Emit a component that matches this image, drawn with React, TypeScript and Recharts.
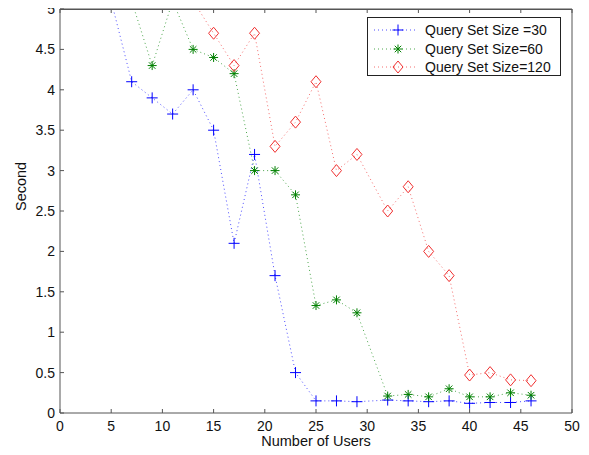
import React from "react";
import {
  LineChart,
  Line,
  XAxis,
  YAxis,
  Legend,
  ReferenceLine,
} from "recharts";

// number of users on the x axis
const userCounts = [5, 7, 9, 11, 13, 15, 17, 19, 21, 23, 25, 27, 29, 32, 34, 36, 38, 40, 42, 44, 46];

// seconds, per query set size (values above 5 leave the plot area)
const size30 = [5.1, 4.1, 3.9, 3.7, 4.0, 3.5, 2.1, 3.2, 1.7, 0.5, 0.15, 0.15, 0.14, 0.16, 0.15, 0.14, 0.15, 0.12, 0.13, 0.13, 0.15];
const size60 = [null, 5.1, 4.3, 5.1, 4.5, 4.4, 4.2, 3.0, 3.0, 2.7, 1.33, 1.4, 1.24, 0.21, 0.23, 0.2, 0.3, 0.2, 0.2, 0.25, 0.22];
const size120 = [null, null, null, null, 5.1, 4.7, 4.3, 4.7, 3.3, 3.6, 4.1, 3.0, 3.2, 2.5, 2.8, 2.0, 1.7, 0.47, 0.5, 0.41, 0.4];

const xTicks = [0, 5, 10, 15, 20, 25, 30, 35, 40, 45, 50];
const yTicks = [0, 0.5, 1, 1.5, 2, 2.5, 3, 3.5, 4, 4.5, 5];

const seriesNames = ["Query Set Size =30", "Query Set Size=60", "Query Set Size=120"];

const data = userCounts.map((u, i) => ({
  users: u,
  s30: size30[i],
  s60: size60[i],
  s120: size120[i],
}));

const BLUE = "#0000ff";
const GREEN = "#008000";
const RED = "#f03030";
const AXIS = "#555";
const DASH = "1 3";
const FONT = "'Liberation Sans', Arial, Helvetica, sans-serif";

// chart sits at (8, 8) inside the body margin
const PLOT_TOP = 1;
const PLOT_LEFT = 52;
const PLOT_WIDTH = 512;

const PlusMark = ({ cx, cy }: { cx: number; cy: number }) => (
  <g>
    <line x1={cx - 5.5} y1={cy} x2={cx + 5.5} y2={cy} stroke={BLUE} strokeWidth={1} />
    <line x1={cx} y1={cy - 5.5} x2={cx} y2={cy + 5.5} stroke={BLUE} strokeWidth={1} />
  </g>
);

const StarMark = ({ cx, cy }: { cx: number; cy: number }) => {
  const r = 4.5;
  const d = r * 0.72;
  return (
    <g stroke={GREEN} strokeWidth={1}>
      <line x1={cx - r} y1={cy} x2={cx + r} y2={cy} />
      <line x1={cx} y1={cy - r} x2={cx} y2={cy + r} />
      <line x1={cx - d} y1={cy - d} x2={cx + d} y2={cy + d} />
      <line x1={cx - d} y1={cy + d} x2={cx + d} y2={cy - d} />
    </g>
  );
};

const DiamondMark = ({ cx, cy }: { cx: number; cy: number }) => (
  <path
    d={`M${cx} ${cy - 6} L${cx + 5} ${cy} L${cx} ${cy + 6} L${cx - 5} ${cy} Z`}
    fill="none"
    stroke={RED}
    strokeWidth={1}
  />
);

const marks = [PlusMark, StarMark, DiamondMark];
const colors = [BLUE, GREEN, RED];

function dotFor(idx: number) {
  const Mark = marks[idx];
  return (props: any) => {
    const { cx, cy, index, value } = props;
    if (value == null || cx == null || cy == null) return <g key={index} />;
    return <Mark key={index} cx={cx} cy={cy} />;
  };
}

// bottom tick label, plus the matching inward tick on the top edge of the box
const XTick = (props: any) => {
  const { x, y, payload } = props;
  return (
    <g>
      <line x1={x} y1={PLOT_TOP} x2={x} y2={PLOT_TOP + 4} stroke={AXIS} />
      <text x={x} y={y} dy="0.71em" textAnchor="middle" fill="#111" fontSize={14} fontFamily={FONT}>
        {payload.value}
      </text>
    </g>
  );
};

const LegendBox = () => (
  <div
    style={{
      border: "1px solid #222",
      background: "#fff",
      width: 194,
      height: 59,
      fontFamily: FONT,
      fontSize: 14,
      color: "#111",
      boxSizing: "border-box",
    }}
  >
    {seriesNames.map((name, i) => {
      const Mark = marks[i];
      return (
        <div key={name} style={{ display: "flex", alignItems: "center", height: 18.5, marginTop: i === 0 ? 3 : 0 }}>
          <svg width={56} height={18}>
            <line x1={6} y1={9} x2={50} y2={9} stroke={colors[i]} strokeOpacity={0.7} strokeWidth={1} strokeDasharray={DASH} />
            <Mark cx={30} cy={9} />
          </svg>
          <span style={{ marginLeft: 1 }}>{name}</span>
        </div>
      );
    })}
  </div>
);

export default function App() {
  return (
    <div style={{ width: 581, height: 447, position: "relative" }}>
      <style>{`.recharts-surface { overflow: visible; }`}</style>
      <LineChart
        width={581}
        height={447}
        data={data}
        margin={{ top: PLOT_TOP, right: 16, left: 0, bottom: 0 }}
        style={{ fontFamily: FONT }}
      >
        <XAxis
          dataKey="users"
          type="number"
          domain={[0, 50]}
          ticks={xTicks}
          interval={0}
          height={42}
          tickSize={-4}
          tickMargin={12}
          stroke={AXIS}
          tick={<XTick />}
          label={{ value: "Number of Users", position: "insideBottom", offset: 9, fill: "#111", fontSize: 14.5, fontFamily: FONT }}
        />
        <YAxis
          type="number"
          domain={[0, 5]}
          allowDataOverflow
          ticks={yTicks}
          interval={0}
          width={PLOT_LEFT}
          tickSize={-4}
          tickMargin={9}
          stroke={AXIS}
          tick={{ fill: "#111", fontSize: 14, fontFamily: FONT }}
          label={{ value: "Second", angle: -90, position: "insideLeft", offset: 13, fill: "#111", fontSize: 14.5, fontFamily: FONT }}
        />
        <YAxis
          yAxisId="right"
          orientation="right"
          type="number"
          domain={[0, 5]}
          allowDataOverflow
          ticks={yTicks}
          interval={0}
          width={1}
          tickSize={-4}
          tick={false}
          stroke={AXIS}
        />
        <ReferenceLine y={5} stroke={AXIS} strokeWidth={1} ifOverflow="visible" />
        <Line
          dataKey="s30"
          name={seriesNames[0]}
          stroke={BLUE}
          strokeOpacity={0.7}
          strokeWidth={1}
          strokeDasharray={DASH}
          dot={dotFor(0)}
          activeDot={false}
          isAnimationActive={false}
        />
        <Line
          dataKey="s60"
          name={seriesNames[1]}
          stroke={GREEN}
          strokeOpacity={0.7}
          strokeWidth={1}
          strokeDasharray={DASH}
          dot={dotFor(1)}
          activeDot={false}
          isAnimationActive={false}
        />
        <Line
          dataKey="s120"
          yAxisId="right"
          name={seriesNames[2]}
          stroke={RED}
          strokeOpacity={0.7}
          strokeWidth={1}
          strokeDasharray={DASH}
          dot={dotFor(2)}
          activeDot={false}
          isAnimationActive={false}
        />
        <Legend
          layout="vertical"
          align="center"
          verticalAlign="middle"
          content={() => <LegendBox />}
          wrapperStyle={{ position: "absolute", left: 359, top: 9, width: 194, height: 59 }}
        />
      </LineChart>
      {/* top edge of the axes box */}
      <div
        style={{
          position: "absolute",
          left: PLOT_LEFT,
          top: PLOT_TOP,
          width: PLOT_WIDTH,
          height: 0,
          borderTop: `1px solid ${AXIS}`,
          pointerEvents: "none",
        }}
      />
    </div>
  );
}
